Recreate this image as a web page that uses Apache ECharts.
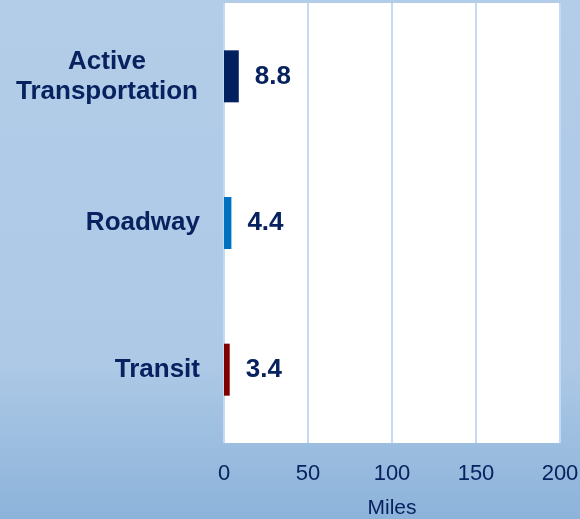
<!DOCTYPE html>
<html>
<head>
<meta charset="utf-8">
<script src="https://cdn.jsdelivr.net/npm/echarts@6/dist/echarts.min.js"></script>
<style>
html,body{margin:0;padding:0;width:580px;height:519px;overflow:hidden;}
#c{width:580px;height:519px;}
</style>
</head>
<body>
<div id="c"></div>
<script>
const categories = ['Active Transportation', 'Roadway', 'Transit'];
const values = [8.8, 4.4, 3.4];
const barColors = ['#002060', '#0070c0', '#7f0000'];
const xTicks = [0, 50, 100, 150, 200];
const axisName = 'Miles';

const FONT = '"Liberation Sans", Arial, sans-serif';
const chart = echarts.init(document.getElementById('c'));
const navy = '#082260';
chart.setOption({
  animation: false,
  backgroundColor: {
    type: 'linear', x: 0, y: 0, x2: 0, y2: 1,
    colorStops: [
      {offset: 0, color: '#b3cde8'},
      {offset: 0.7, color: '#adc9e6'},
      {offset: 1, color: '#8cb3da'}
    ]
  },
  grid: {
    left: 224, right: 20, top: 3, bottom: 76,
    show: true, backgroundColor: '#ffffff', borderWidth: 0,
    containLabel: false, outerBoundsMode: 'none'
  },
  xAxis: {
    type: 'value',
    min: xTicks[0], max: xTicks[xTicks.length - 1], interval: 50,
    axisLine: {show: false}, axisTick: {show: false},
    splitLine: {show: true, lineStyle: {color: '#c6d8f7', width: 2}},
    axisLabel: {
      color: navy, fontSize: 22, fontFamily: FONT,
      margin: 20
    },
    name: axisName, nameLocation: 'middle', nameGap: 55,
    nameTextStyle: {color: navy, fontSize: 21, fontFamily: FONT}
  },
  yAxis: {
    type: 'category', inverse: true,
    data: categories,
    axisLine: {show: false}, axisTick: {show: false},
    splitLine: {show: false},
    axisLabel: {
      margin: 24,
      color: navy, fontSize: 26, fontWeight: 'bold',
      fontFamily: FONT,
      lineHeight: 30,
      formatter: function (v) {
        if (v === 'Active Transportation') {
          return '{c|Active}\n{c|Transportation}';
        }
        return v;
      },
      rich: {
        c: {
          width: 186, align: 'center', color: navy, fontSize: 26, fontWeight: 'bold',
          fontFamily: FONT, lineHeight: 30
        }
      }
    }
  },
  series: [{
    type: 'bar',
    barWidth: 52,
    data: values.map((v, i) => ({value: v, itemStyle: {color: barColors[i]}})),
    label: {
      show: true, position: 'right', distance: 16,
      color: navy, fontSize: 26, fontWeight: 'bold',
      fontFamily: FONT
    }
  }]
});
</script>
</body>
</html>
